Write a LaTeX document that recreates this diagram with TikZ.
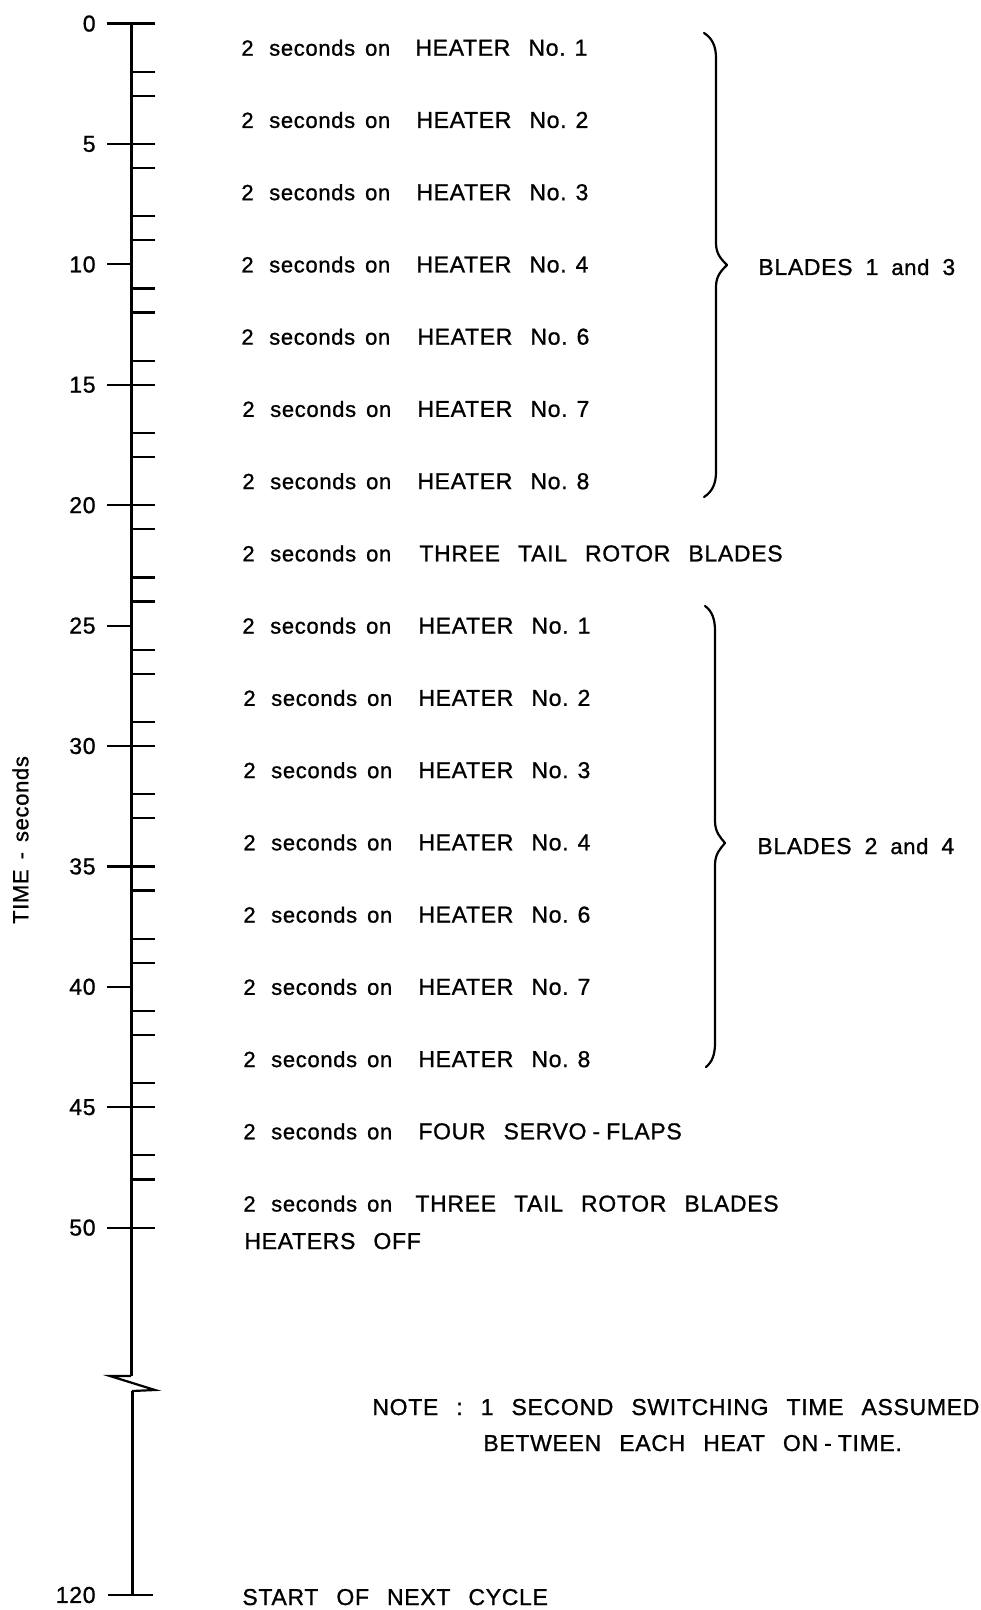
\documentclass[tikz,border=0pt]{standalone}
\usepackage{fontspec}
\setmainfont{Liberation Sans}[LetterSpace=3,FakeBold=1]
\newcommand{\hnum}[1]{No.\hspace{4.5pt}#1}
\newcommand{\sdash}{\hspace{3pt}-\hspace{3pt}}
\begin{document}
\frenchspacing
\begin{tikzpicture}[x=0.5pt,y=-0.5pt,
  lower/.style={font={\fontsize{11}{13}\selectfont\spaceskip=5pt\relax}, inner sep=0pt, anchor=base west},
  lbl/.style={font={\fontsize{11.5}{13}\selectfont\spaceskip=9pt\relax}, inner sep=0pt, anchor=base west},
  bladelbl/.style={font={\fontsize{11.5}{13}\selectfont\spaceskip=6.5pt\relax}, inner sep=0pt, anchor=base west},
  num/.style={font={\fontsize{11.5}{13}\selectfont}, inner sep=0pt, anchor=east},
  axisline/.style={line width=1.5pt},
  tickline/.style={line width=1.1pt},
  bracestyle/.style={line width=1.1pt, line cap=round, line join=round}]
\useasboundingbox (0,0) rectangle (980,1610);
\fill[white] (0,0) rectangle (980,1610);

% axis with break
\coordinate (top) at (131,23.6);
\coordinate (brkA) at (131,1376);
\coordinate (brkL) at (110,1376);
\coordinate (brkR) at (155,1390);
\coordinate (brkB) at (132,1391);
\coordinate (bot) at (132,1595);
\draw[axisline] (top) -- (brkA);
\draw[tickline, line join=miter] (brkA) -- (brkL) -- (brkR) -- (brkB);
\draw[axisline] (brkB) -- (bot);

% right-hand ticks (start/end of each on-time)
\foreach \t in {0,2,3,5,6,8,9,11,12,14,15,17,18,20,21,23,24,26,27,29,30,32,33,35,36,38,39,41,42,44,45,47,48,50}{
  \draw[tickline] (131,{23.6+24.08*\t}) -- (155,{23.6+24.08*\t});
}
% major ticks and labels
\foreach \t in {0,5,...,50}{
  \draw[tickline] (107,{23.6+24.08*\t}) -- (131,{23.6+24.08*\t});
  \node[num] (n\t) at (96,{23.6+24.08*\t}) {\t};
}
\draw[tickline] (108,1595) -- (153,1595);
\node[num] (n120) at (96,1595) {120};

\node[font={\fontsize{11}{13}\selectfont\spaceskip=5pt\relax}, inner sep=0pt, rotate=90] (ylab) at (20.5,840) {TIME - seconds};

% rows
\foreach \txt/\xx/\xa [count=\i from 0] in {
  HEATER \hnum{1}/415/241, HEATER \hnum{2}/416/241, HEATER \hnum{3}/416/241,
  HEATER \hnum{4}/416/241, HEATER \hnum{6}/417/241, HEATER \hnum{7}/417/242,
  HEATER \hnum{8}/417/242, THREE TAIL ROTOR BLADES/419/242,
  HEATER \hnum{1}/418/242, HEATER \hnum{2}/418/243, HEATER \hnum{3}/418/243,
  HEATER \hnum{4}/418/243, HEATER \hnum{6}/418/243, HEATER \hnum{7}/418/243,
  HEATER \hnum{8}/418/243, FOUR SERVO\sdash FLAPS/418/243,
  THREE TAIL ROTOR BLADES/415/243}{
  \pgfmathsetmacro\yy{23.6+24.08*(3*\i+1)+8}
  \node[lower] (a\i) at (\xa,\yy) {2\hspace{2.8pt} seconds on};
  \node[lbl] (b\i) at (\xx,\yy) {\txt};
}
\node[lbl] (off) at (244,1249) {HEATERS OFF};
\node[lbl] (start) at (242,1605) {START OF NEXT CYCLE};

% braces
\draw[bracestyle] (704,33) .. controls (712,38) and (716,46) .. (716,58) -- (716,243)
  .. controls (716,254) and (721,259) .. (727,265)
  .. controls (721,271) and (716,276) .. (716,287) -- (716,472)
  .. controls (716,484) and (712,492) .. (704,497);
\draw[bracestyle] (705,606) .. controls (712,611) and (715,619) .. (715,631) -- (715,821)
  .. controls (715,832) and (720,837) .. (725,843)
  .. controls (720,849) and (715,854) .. (715,865) -- (715,1043)
  .. controls (715,1055) and (712,1062) .. (706,1067);
\node[bladelbl] (bl13) at (758,275) {BLADES 1 {\fontsize{11}{13}\selectfont and} 3};
\node[bladelbl] (bl24) at (757,854) {BLADES 2 {\fontsize{11}{13}\selectfont and} 4};

% note
\node[lbl] (note1) at (372,1415) {NOTE : 1 SECOND SWITCHING TIME ASSUMED};
\node[lbl] (note2) at (483,1451) {BETWEEN EACH HEAT ON\sdash TIME.};
\end{tikzpicture}
\end{document}
